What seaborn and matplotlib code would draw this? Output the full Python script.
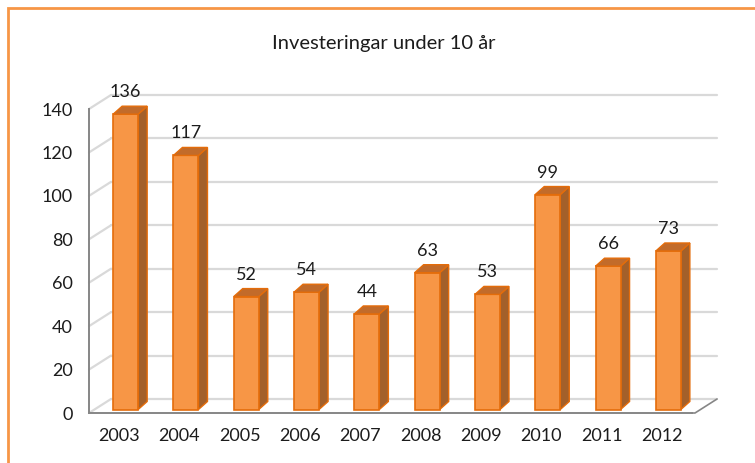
import numpy as np
import pandas as pd
import matplotlib
matplotlib.use("Agg")
import matplotlib.pyplot as plt
import seaborn as sns
from matplotlib.patches import Polygon, Rectangle
from matplotlib.lines import Line2D
from matplotlib.transforms import IdentityTransform, ScaledTranslation

# ---- data ----
years = ["2003", "2004", "2005", "2006", "2007", "2008", "2009", "2010", "2011", "2012"]
values = [136, 117, 52, 54, 44, 63, 53, 99, 66, 73]
yticks = [0, 20, 40, 60, 80, 100, 120, 140]
title = "Investeringar under 10 år"

sns.set_style("white")
plt.rcParams["font.family"] = ["Lato", "DejaVu Sans"]

W, H = 755, 463
DPI = 100
fig = plt.figure(figsize=(W / DPI, H / DPI), dpi=DPI)
fig.patch.set_facecolor("white")

ax = fig.add_axes([89 / W, (H - 413) / H, 603 / W, 304 / H])
ax.set_facecolor("none")

FRONT = "#F79646"
EDGE = "#E46C0A"
SIDE = "#A3602A"
TOP = "#C26B2A"
GRID = "#D9D9D9"
AXC = "#868686"
TXT = "#1c1c1c"
FS = 13

df = pd.DataFrame({"year": years, "value": values})
BW = 0.415
sns.barplot(data=df, x="year", y="value", width=BW, color=FRONT, saturation=1,
            edgecolor=EDGE, linewidth=1.2, ax=ax, zorder=3)
ax.set_xlim(-0.5, 9.5)
ax.set_ylim(0, 140)
ax.set_xlabel("")
ax.set_ylabel("")

# bar offset inside the 3D box (pixels) and bar depth
BX, BY = 6.5, 3.5
DX, DY = 9, 8
# back wall offset
WX, WY = 22, 14

shift = ax.transData + ScaledTranslation(BX / DPI, BY / DPI, fig.dpi_scale_trans)
for p in ax.patches:
    p.set_transform(shift)


def px(x, y, dx=0.0, dy=0.0):
    X, Y = ax.transData.transform((x, y))
    return (X + dx, Y + dy)


ident = IdentityTransform()

# 3D side and top faces
for i, v in enumerate(values):
    left, right = i - BW / 2, i + BW / 2
    side = [px(right, 0, BX, BY), px(right, v, BX, BY),
            px(right, v, BX + DX, BY + DY), px(right, 0, BX + DX, BY + DY)]
    top = [px(left, v, BX, BY), px(right, v, BX, BY),
           px(right, v, BX + DX, BY + DY), px(left, v, BX + DX, BY + DY)]
    ax.add_patch(Polygon(side, closed=True, transform=ident, fc=SIDE, ec=EDGE,
                         lw=1.0, zorder=2.9, clip_on=False))
    ax.add_patch(Polygon(top, closed=True, transform=ident, fc=TOP, ec=EDGE,
                         lw=1.0, zorder=3.1, clip_on=False))
    ax.annotate(str(v), xy=(i, v), xytext=(BX * 0.72, 20.5 * 0.72),
                textcoords="offset points", ha="center", va="baseline",
                fontsize=FS, color=TXT, zorder=4)

# back-wall gridlines and left-wall diagonals
for t in yticks:
    a = px(-0.5, t, WX, WY)
    b = px(9.55, t, WX, WY)
    ax.add_line(Line2D([a[0], b[0]], [a[1], b[1]], transform=ident, color=GRID,
                       lw=1.6, zorder=1, clip_on=False))
    c = px(-0.5, t)
    ax.add_line(Line2D([c[0], a[0]], [c[1], a[1]], transform=ident, color=GRID,
                       lw=1.6, zorder=1, clip_on=False))

# floor front edge extension and right diagonal
f0 = px(9.5, 0)
f1 = px(9.55, 0)
f2 = px(9.55, 0, WX, WY)
ax.add_line(Line2D([f0[0], f1[0], f2[0]], [f0[1], f1[1], f2[1]], transform=ident,
                   color=AXC, lw=1.2, zorder=1.5, clip_on=False))

# spines / ticks
for s in ["top", "right"]:
    ax.spines[s].set_visible(False)
for s in ["left", "bottom"]:
    ax.spines[s].set_color(AXC)
    ax.spines[s].set_linewidth(1.4)
    ax.spines[s].set_zorder(2)

ax.set_yticks(yticks)
ax.set_yticklabels([str(t) for t in yticks])
ax.tick_params(axis="y", length=3.6, width=1.2, color=AXC, pad=8,
               labelsize=FS, labelcolor=TXT)

ax.set_xticks(np.arange(-0.5, 10.0, 1.0))
ax.set_xticklabels([])
ax.set_xticks(np.arange(len(years)), minor=True)
ax.set_xticklabels(years, minor=True)
ax.tick_params(axis="x", which="major", length=5, width=1.2, color=AXC, direction="out")
ax.tick_params(axis="x", which="minor", length=0, pad=11, labelsize=FS,
               labelcolor=TXT)

# title
fig.text(384 / W, 1 - 44 / H, title, ha="center", va="center", fontsize=14.5, color=TXT)

# orange chart border
fig.add_artist(Rectangle((8 / W, -0.1), 1.2, 1 - 8 / H + 0.1, transform=fig.transFigure,
                         fill=False, edgecolor=FRONT, lw=2))

fig.savefig("out.png", dpi=DPI)
